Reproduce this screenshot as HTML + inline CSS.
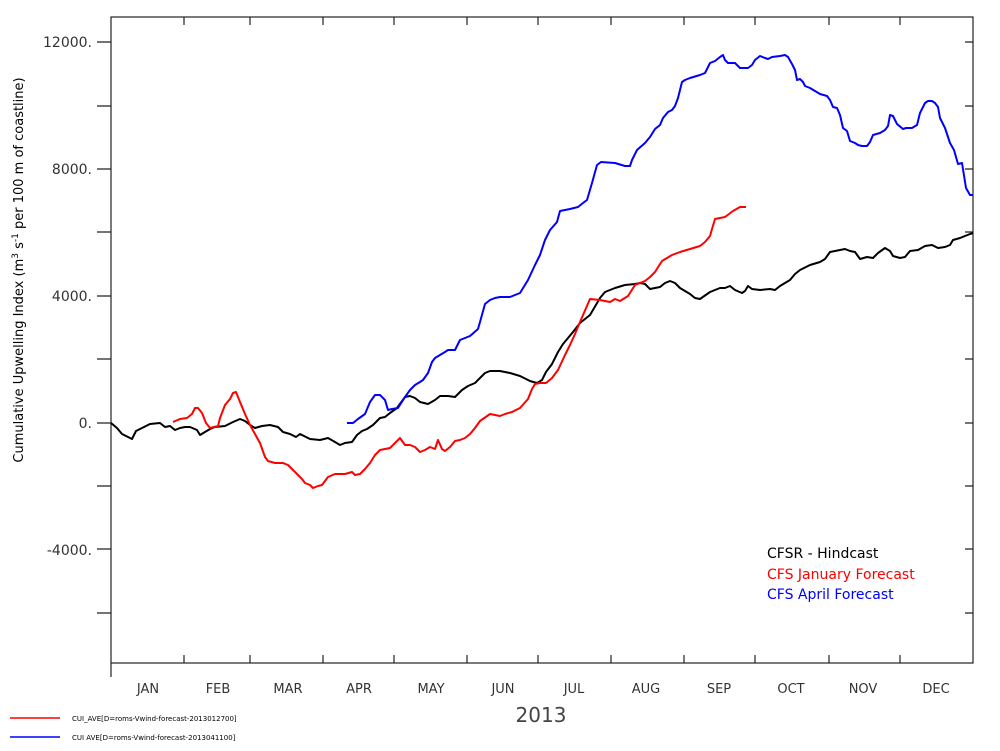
<!DOCTYPE html>
<html><head><meta charset="utf-8"><style>
html,body{margin:0;padding:0;background:#fff;}
svg{display:block;}
text{font-family:"DejaVu Sans","Liberation Sans",sans-serif;}
</style></head><body>
<svg width="1000" height="751" viewBox="0 0 1000 751" xmlns="http://www.w3.org/2000/svg">
<rect width="1000" height="751" fill="#fff"/>
<g stroke="#222" stroke-width="1.2" fill="none">
<rect x="111" y="17" width="862" height="646"/>
<line x1="111" y1="663" x2="111" y2="677"/>
<path d="M97 42H111M97 106H111M97 169H111M97 232H111M97 296H111M97 359H111M97 423H111M97 486H111M97 549H111M97 613H111"/>
<path d="M965 42H973M965 106H973M965 169H973M965 232H973M965 296H973M965 359H973M965 423H973M965 486H973M965 549H973M965 613H973"/>
<path d="M184 663V655M250 663V655M323 663V655M394 663V655M467 663V655M538 663V655M611 663V655M684 663V655M755 663V655M829 663V655M900 663V655"/>
<path d="M184 17V25M250 17V25M323 17V25M394 17V25M467 17V25M538 17V25M611 17V25M684 17V25M755 17V25M829 17V25M900 17V25"/>
</g>
<g font-size="14" fill="#333" text-anchor="end">
<text x="92" y="47">12000.</text>
<text x="92" y="174">8000.</text>
<text x="92" y="301">4000.</text>
<text x="92" y="428">0.</text>
<text x="92" y="555">-4000.</text>
</g>
<text transform="translate(23,270) rotate(-90)" font-size="13" fill="#000" text-anchor="middle" font-family="Liberation Sans,sans-serif">Cumulative Upwelling Index (m<tspan font-size="9" dy="-5">3</tspan><tspan dy="5"> s</tspan><tspan font-size="9" dy="-5">-1</tspan><tspan dy="5"> per 100 m of coastline)</tspan></text>
<g font-size="13" fill="#333" text-anchor="middle">
<text x="148" y="693">JAN</text><text x="218" y="693">FEB</text><text x="288" y="693">MAR</text><text x="359" y="693">APR</text>
<text x="431" y="693">MAY</text><text x="503" y="693">JUN</text><text x="574" y="693">JUL</text><text x="646" y="693">AUG</text>
<text x="719" y="693">SEP</text><text x="791" y="693">OCT</text><text x="863" y="693">NOV</text><text x="936" y="693">DEC</text>
</g>
<text x="541" y="722" font-size="20" fill="#444" text-anchor="middle">2013</text>
<line x1="10" y1="718" x2="60" y2="718" stroke="#f00" stroke-width="1.5"/>
<line x1="10" y1="737" x2="60" y2="737" stroke="#00f" stroke-width="1.5"/>
<text x="72" y="721" font-size="7" fill="#000">CUI_AVE[D=roms-Vwind-forecast-2013012700]</text>
<text x="72" y="740" font-size="7" fill="#000">CUI AVE[D=roms-Vwind-forecast-2013041100]</text>
<g font-size="14" font-family="Liberation Sans,sans-serif">
<text x="767" y="558" fill="#000">CFSR - Hindcast</text>
<text x="767" y="579" fill="#f00">CFS January Forecast</text>
<text x="767" y="599" fill="#00f">CFS April Forecast</text>
</g>
<g fill="none" stroke-width="2" stroke-linejoin="round">
<polyline stroke="#000" points="111,423 117,428 122,434 128,437 132,439 136,431 142,428 150,424 160,423 165,427 170,426 175,430 180,428 185,427 190,427 197,430 200,435 205,432 210,429 215,427 225,426 233,422 240,419 245,421 250,425 255,428 262,426 270,425 278,427 283,432 290,434 296,437 300,434 310,439 320,440 328,438 335,442 340,445 345,443 352,442 357,435 362,431 367,429 373,425 380,418 385,417 390,413 397,408 405,397 410,396 415,398 420,402 428,404 435,400 440,396 448,396 455,397 462,390 468,386 475,383 480,378 485,373 490,371 500,371 510,373 520,376 530,381 537,383 542,380 546,372 552,364 558,352 563,344 573,332 580,323 590,315 600,298 605,292 615,288 625,285 635,284 640,283 645,284 650,289 660,287 665,283 670,281 675,283 680,288 690,294 695,298 700,299 710,292 720,288 725,288 730,286 735,290 742,293 745,291 748,286 752,289 760,290 770,289 775,290 780,286 790,280 795,274 800,270 810,265 820,262 825,259 830,252 840,250 845,249 850,251 855,252 860,259 867,257 873,258 878,253 885,248 890,251 893,256 900,258 905,257 910,251 918,250 925,246 932,245 938,248 945,247 950,245 953,240 960,238 965,236 970,234 973,233"/>
<polyline stroke="#f00" points="173,422 180,419 187,418 192,414 195,408 198,408 202,413 206,423 210,428 214,427 218,426 220,418 225,405 230,399 233,393 236,392 240,402 245,414 250,425 255,434 260,443 265,457 268,461 275,463 283,463 288,465 295,472 302,479 305,483 310,485 313,488 318,486 322,485 328,477 335,474 345,474 352,472 355,475 360,474 365,469 370,463 375,455 380,450 390,448 395,443 400,438 405,445 410,445 415,447 420,452 425,450 430,447 435,449 438,440 442,449 445,451 450,447 455,441 460,440 465,438 470,434 475,428 480,421 490,414 500,416 505,414 512,412 520,408 528,399 532,389 535,384 540,383 546,383 552,378 558,370 565,355 570,345 575,334 580,322 590,299 600,300 610,302 615,299 620,301 628,296 635,285 645,281 650,277 655,272 662,261 672,255 680,252 690,249 700,246 705,242 710,236 712,229 715,219 725,217 733,211 740,207 746,207"/>
<polyline stroke="#00f" points="347,423 353,423 358,419 365,414 370,402 375,395 380,395 385,400 388,410 392,409 398,408 405,397 410,390 415,385 420,382 423,380 428,373 432,362 435,358 440,355 445,352 448,350 455,350 460,340 465,338 470,336 478,329 480,322 485,304 490,300 495,298 500,297 510,297 520,293 528,280 535,265 540,255 545,240 550,230 557,222 560,211 570,209 578,207 583,203 587,200 592,183 597,165 601,162 615,163 625,166 630,166 632,160 637,150 645,143 650,137 655,129 660,125 663,118 668,112 672,110 675,106 678,98 682,82 685,80 690,78 700,75 705,73 710,63 715,61 720,57 723,55 725,60 728,63 735,63 738,66 740,68 748,68 752,65 755,60 760,56 765,58 768,59 772,57 780,56 785,55 788,57 792,64 795,70 797,80 800,79 803,82 805,86 810,88 815,91 820,94 827,96 830,100 833,107 837,108 840,115 843,128 847,131 850,141 855,143 858,145 862,146 867,146 870,142 873,135 880,133 885,130 888,126 890,115 893,116 897,124 903,129 906,128 912,128 917,125 920,113 925,103 928,101 932,101 935,103 938,107 940,118 945,128 950,143 954,150 958,164 962,163 966,188 970,195 973,195"/>
</g>
</svg>
</body></html>
